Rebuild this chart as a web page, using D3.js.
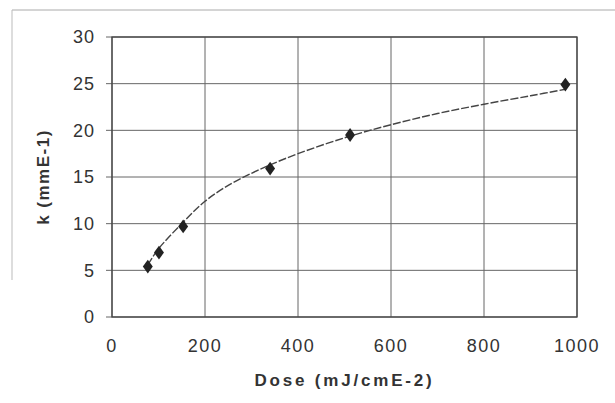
<!DOCTYPE html>
<html><head><meta charset="utf-8">
<script src="https://cdn.jsdelivr.net/npm/d3@7"></script>
<style>body{margin:0;background:#fff;} svg{display:block;}</style>
</head><body><svg id="c" width="615" height="403"></svg>
<script>
// Measured data points (Dose, k)
const dose = [77, 101, 153, 340, 512, 975];
const kVal = [5.4, 6.9, 9.7, 15.9, 19.5, 24.9];
// Trend line
const trendDose = [77, 100, 150, 200, 250, 300, 340, 400, 500, 600, 700, 800, 900, 975];
const trendK = [5.6, 7.3, 10.0, 12.4, 14.1, 15.4, 16.3, 17.5, 19.2, 20.6, 21.8, 22.8, 23.7, 24.4];
const xTicks = [0, 200, 400, 600, 800, 1000];
const yTicks = [0, 5, 10, 15, 20, 25, 30];

const svg = d3.select("#c");
const L = 112, R = 577, T = 37, B = 317;
const x = d3.scaleLinear().domain([0, 1000]).range([L, R]);
const y = d3.scaleLinear().domain([0, 30]).range([B, T]);

// outer chart frame (faint)
svg.append("line").attr("x1", 12).attr("x2", 615).attr("y1", 10).attr("y2", 10).attr("stroke", "#aaa").attr("stroke-width", 1);
svg.append("line").attr("x1", 12).attr("x2", 12).attr("y1", 10).attr("y2", 280).attr("stroke", "#bbb").attr("stroke-width", 1);

// gridlines
svg.append("g").selectAll("line").data(yTicks).join("line")
  .attr("x1", L - 6).attr("x2", R).attr("y1", d => y(d)).attr("y2", d => y(d))
  .attr("stroke", "#666").attr("stroke-width", 1);
svg.append("g").selectAll("line").data(xTicks).join("line")
  .attr("y1", T).attr("y2", B).attr("x1", d => x(d)).attr("x2", d => x(d))
  .attr("stroke", "#666").attr("stroke-width", 1);
// plot border
svg.append("rect").attr("x", L).attr("y", T).attr("width", R - L).attr("height", B - T)
  .attr("fill", "none").attr("stroke", "#444").attr("stroke-width", 1.3);

const font = "Arial, 'Liberation Sans', sans-serif";
// y tick labels
svg.append("g").selectAll("text").data(yTicks).join("text")
  .attr("x", 95).attr("y", d => y(d)).attr("dy", "0.36em")
  .attr("text-anchor", "end").attr("font-family", font).attr("font-size", 18)
  .attr("letter-spacing", "1px").attr("fill", "#333").text(d => d);
// x tick labels
svg.append("g").selectAll("text").data(xTicks).join("text")
  .attr("x", d => x(d)).attr("y", 352)
  .attr("text-anchor", "middle").attr("font-family", font).attr("font-size", 18)
  .attr("letter-spacing", "1.5px").attr("fill", "#333").text(d => d);

// axis titles
svg.append("text").attr("x", (L + R) / 2).attr("y", 386).attr("text-anchor", "middle")
  .attr("font-family", font).attr("font-size", 17).attr("font-weight", "bold")
  .attr("letter-spacing", "2.8px").attr("fill", "#333").text("Dose (mJ/cmE-2)");
svg.append("text").attr("transform", `translate(49,${(T + B) / 2}) rotate(-90)`)
  .attr("text-anchor", "middle").attr("font-family", font).attr("font-size", 17)
  .attr("font-weight", "bold").attr("letter-spacing", "1.5px").attr("fill", "#333").text("k (mmE-1)");

// trend line
const trend = trendDose.map((d, i) => [d, trendK[i]]);
svg.append("path").datum(trend)
  .attr("d", d3.line().x(d => x(d[0])).y(d => y(d[1])).curve(d3.curveCatmullRom))
  .attr("fill", "none").attr("stroke", "#444").attr("stroke-width", 1.4)
  .attr("stroke-dasharray", "8,2");

// markers
const pts = dose.map((d, i) => [d, kVal[i]]);
svg.append("g").selectAll("path").data(pts).join("path")
  .attr("transform", d => `translate(${x(d[0])},${y(d[1])}) scale(1.25,1)`)
  .attr("d", d3.symbol().type(d3.symbolDiamond).size(55))
  .attr("fill", "#222");
</script></body></html>
